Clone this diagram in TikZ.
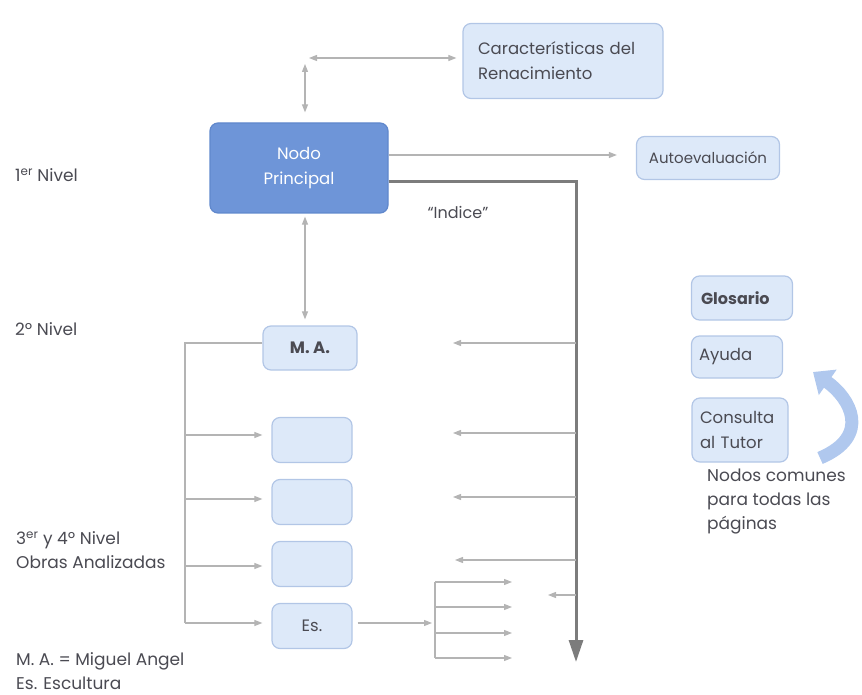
\documentclass[tikz,border=0pt]{standalone}
\usepackage{fontspec}
\setmainfont{Poppins}
\usetikzlibrary{arrows.meta}
\definecolor{boxfill}{HTML}{DDE9F9}
\definecolor{boxline}{HTML}{B2C6E6}
\definecolor{npblue}{HTML}{6E95D8}
\definecolor{npline}{HTML}{6088CC}
\definecolor{txt}{HTML}{4A4A52}
\definecolor{arr}{HTML}{B4B4B4}
\definecolor{thickc}{HTML}{7C7C7C}
\definecolor{curvc}{HTML}{B0C8EE}
\begin{document}
\begin{tikzpicture}[x=1pt,y=-1pt,
  lbl/.style={font=\fontsize{17}{24}\selectfont, text=txt, align=left, anchor=west, inner sep=0pt},
  bx/.style={draw=boxline, fill=boxfill, rounded corners=8pt, line width=1.2pt, text=txt,
             font=\fontsize{16.5}{25}\selectfont, inner sep=0pt},
  conn/.style={draw=arr, line width=1.1pt},
  tip/.style={-{Triangle[length=8pt,width=6pt]}},
  dtip/.style={{Triangle[length=8pt,width=6pt]}-{Triangle[length=8pt,width=6pt]}},
  thickarrow/.style={draw=thickc, line width=3pt, -{Triangle[length=22pt,width=14pt]}},
  curvarrow/.style={draw=curvc, line width=13pt, -{Triangle[length=18pt,width=30pt]}}
]
\path[use as bounding box] (0,0) rectangle (862,695);

% boxes
\node[bx, minimum width=200pt, minimum height=75pt, text width=170pt, align=left] (car) at (563,61) {Características del\\Renacimiento};
\node[bx, fill=npblue, draw=npline, text=white, minimum width=178pt, minimum height=90pt, align=center] (np) at (299,168) {Nodo\\Principal};
\node[bx, minimum width=143pt, minimum height=43pt, font=\fontsize{15}{20}\selectfont] (auto) at (708,158) {Autoevaluación};
\node[bx, minimum width=94pt, minimum height=44pt, font=\fontsize{16.5}{20}\selectfont\bfseries] (ma) at (310,348) {M. A.};
\node[bx, minimum width=80pt, minimum height=45pt] (b2) at (312,440) {};
\node[bx, minimum width=80pt, minimum height=45pt] (b3) at (312,502) {};
\node[bx, minimum width=80pt, minimum height=45pt] (b4) at (312,564) {};
\node[bx, minimum width=80pt, minimum height=45pt] (es) at (312,626) {Es.};
\node[bx, minimum width=101pt, minimum height=44pt, text width=82pt, align=left, font=\fontsize{16}{20}\selectfont\bfseries] (glo) at (742,298) {Glosario};
\node[bx, minimum width=91pt, minimum height=42pt, text width=76pt, align=left] (ayu) at (737,357) {Ayuda};
\node[bx, minimum width=96pt, minimum height=64pt, text width=80pt, align=left] (con) at (740,430) {Consulta\\al Tutor};

% labels
\node[lbl] (l1) at (15,175) {1\textsuperscript{er} Nivel};
\node[lbl] (l2) at (15,329) {2º Nivel};
\node[lbl] (l3) at (16,550) {3\textsuperscript{er} y 4º Nivel\\Obras Analizadas};
\node[lbl] (l4) at (16,671) {M. A. = Miguel Angel\\Es. Escultura};
\node[lbl] (l5) at (707,502) {Nodos comunes\\para todas las\\páginas};
\node[lbl, anchor=center, font=\fontsize{16}{20}\selectfont] (ind) at (458,212) {“Indice”};

% top connectors
\coordinate (cv) at (305,64);
\coordinate (ch) at (309,58);
\draw[conn, dtip, shorten >=10pt] (cv) -- (np.north -| cv);
\draw[conn, dtip, shorten >=6pt] (ch) -- (car.west |- ch);
\coordinate (ya) at (0,155);
\draw[conn, tip, shorten >=19pt] (np.east |- ya) -- (auto.west |- ya);

% thick index line
\coordinate (yt) at (0,182);
\coordinate (mainend) at (576,662);
\draw[thickarrow] (np.east |- yt) -| (mainend);

% np to ma
\coordinate (xv) at (305,0);
\draw[conn, dtip, shorten <=3pt, shorten >=6pt] (np.south -| xv) -- (ma.north -| xv);

% left bracket
\coordinate (lb0) at (185,343);
\coordinate (lb1) at (185,435);
\coordinate (lb2) at (185,499);
\coordinate (lb3) at (185,566);
\coordinate (lb4) at (185,623);
\draw[conn] (ma.west |- lb0) -- (lb0) -- (lb4);
\draw[conn, tip, shorten >=9pt] (lb1) -- (b2.west |- lb1);
\draw[conn, tip, shorten >=9pt] (lb2) -- (b3.west |- lb2);
\draw[conn, tip, shorten >=9pt] (lb3) -- (b4.west |- lb3);
\draw[conn, tip, shorten >=9pt] (lb4) -- (es.west |- lb4);

% right arrows from index line
\coordinate (r1) at (576,343); \coordinate (t1) at (453,343);
\coordinate (r2) at (576,433); \coordinate (t2) at (453,433);
\coordinate (r3) at (576,497); \coordinate (t3) at (453,497);
\coordinate (r4) at (576,560); \coordinate (t4) at (455,560);
\coordinate (r5) at (576,595); \coordinate (t5) at (548,595);
\foreach \i in {1,...,5} {\draw[conn, tip] (r\i) -- (t\i);}

% Es fan
\coordinate (f0) at (432,623);
\draw[conn, tip, shorten <=5pt] (es.east |- f0) -- (f0);
\coordinate (fa) at (435,582); \coordinate (ga) at (512,582);
\coordinate (fb) at (435,607); \coordinate (gb) at (512,607);
\coordinate (fc) at (435,633); \coordinate (gc) at (512,633);
\coordinate (fd) at (435,658); \coordinate (gd) at (512,658);
\draw[conn] (fa) -- (fd);
\foreach \i in {a,b,c,d} {\draw[conn, tip] (f\i) -- (g\i);}

% curved arrow
\coordinate (ca) at (820,458);
\coordinate (cd) at (813,372);
\draw[curvarrow] (ca) .. controls (872,436) and (850,398) .. (cd);
\end{tikzpicture}
\end{document}
